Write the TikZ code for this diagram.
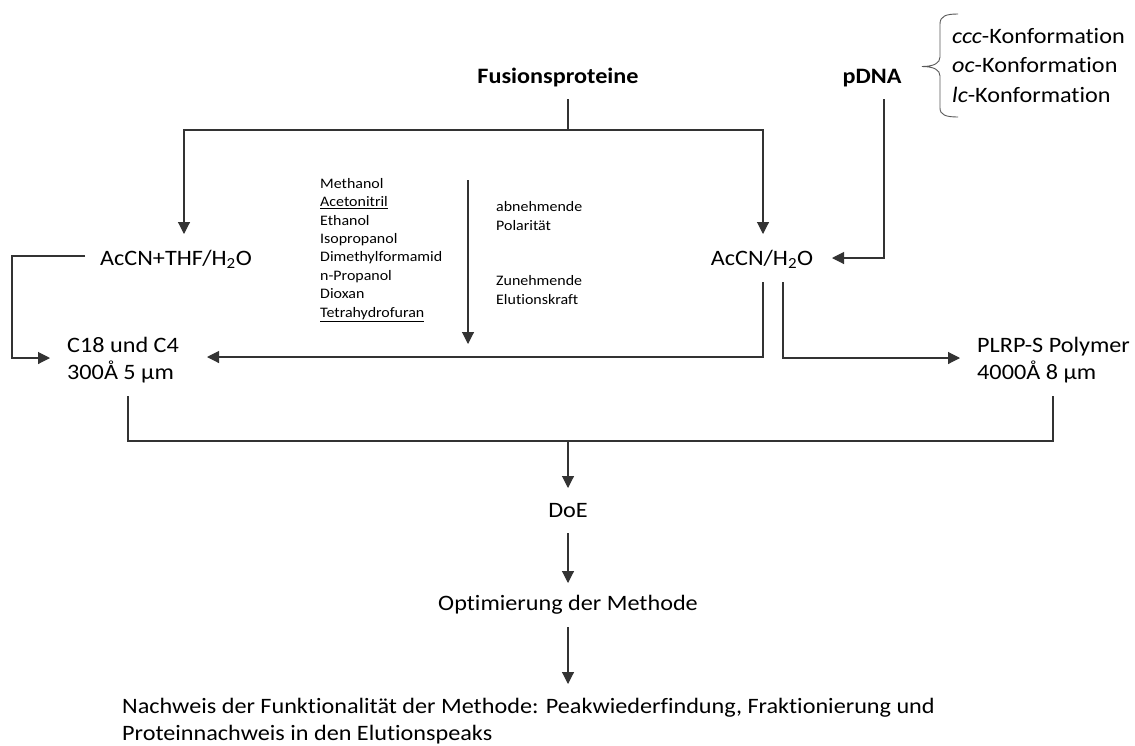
\documentclass[tikz,border=0pt]{standalone}
\usepackage{fontspec}
\setmainfont{Carlito}[FakeStretch=1.1,Ligatures=NoCommon]
\usetikzlibrary{arrows.meta,calc}
\begin{document}
\begin{tikzpicture}[x=1pt,y=-1pt,
  line/.style={draw=black!80, line width=1.1pt},
  arr/.style={line, -{Triangle[length=12pt,width=12pt]}},
  txt/.style={inner sep=0pt, text=black, font=\fontsize{22}{27}\selectfont},
  bold/.style={txt, font=\fontsize{22}{27}\selectfont\bfseries},
  small/.style={inner sep=0pt, text=black, align=left, font=\fontsize{14.5}{18.4}\selectfont},
]
\useasboundingbox[fill=white] (0,0) rectangle (1135,745);

% text nodes (multi-line nodes are placed by the baseline of their last line)
\node[bold, anchor=base] (fus) at (558,83) {Fusionsproteine};
\node[bold, anchor=base] (pdna) at (872,83) {pDNA};
\node[txt, anchor=base west, align=left, font=\fontsize{22}{29.5}\selectfont] (conf) at (952,102)
  {\textit{ccc}-Konformation\\\textit{oc}-Konformation\\\textit{lc}-Konformation};
\node[txt, anchor=base] (acthf) at (176,265) {AcCN+THF/H\textsubscript{2}O};
\node[txt, anchor=base] (acw) at (762,265) {AcCN/H\textsubscript{2}O};
\node[small, anchor=base west] (solv) at (320,317)
  {Methanol\\\underline{Acetonitril}\\Ethanol\\Isopropanol\\Dimethylformamid\\n-Propanol\\Dioxan\\\underline{Tetrahydrofuran}};
\node[small, anchor=base west] (pol) at (496,230) {abnehmende\\Polarität};
\node[small, anchor=base west] (elu) at (496,304) {Zunehmende\\Elutionskraft};
\node[txt, anchor=base west, align=left] (c18) at (67,379) {C18 und C4\\300Å 5 µm};
\node[txt, anchor=base west, align=left] (plrp) at (977,379) {PLRP-S Polymer\\4000Å 8 µm};
\node[txt, anchor=base] (doe) at (568,517) {DoE};
\node[txt, anchor=base] (opt) at (568,610) {Optimierung der Methode};
\node[txt, anchor=base west, align=left] (nach) at (122,740)
  {Nachweis der Funktionalität der Methode: Peakwiederfindung, Fraktionierung und\\Proteinnachweis in den Elutionspeaks};

% connector points
\coordinate (fusout) at (568,99);
\coordinate (fussplit) at (568,130);
\coordinate (acthfin) at (184,234);
\coordinate (acwin) at (763,234);
\coordinate (pdnaout) at (884,99);
\coordinate (acwright) at (832,258);
\coordinate (acthfout) at (85,256);
\coordinate (c18left) at (12,358);
\coordinate (c18in) at (50,358);
\coordinate (acwout1) at (763,282);
\coordinate (c18right) at (207,357);
\coordinate (acwout2) at (783,282);
\coordinate (plrpin) at (960,358);
\coordinate (c18out) at (128,396);
\coordinate (plrpout) at (1053,396);
\coordinate (merge) at (568,441);
\coordinate (doein) at (568,488);
\coordinate (doeout) at (568,533);
\coordinate (optin) at (568,583);
\coordinate (optout) at (568,627);
\coordinate (nachin) at (568,684);
\coordinate (poltop) at (468,180);
\coordinate (polbot) at (468,344);

\draw[line] (fusout) -- (fussplit);
\draw[arr] (fussplit) -| (acthfin);
\draw[arr] (fussplit) -| (acwin);
\draw[arr] (pdnaout) |- (acwright);
\draw[arr] (acthfout) -| (c18left) -- (c18in);
\draw[arr] (acwout1) |- (c18right);
\draw[arr] (acwout2) |- (plrpin);
\draw[line] (c18out) |- (plrpout |- merge) -- (plrpout);
\draw[arr] (merge) -- (doein);
\draw[arr] (doeout) -- (optin);
\draw[arr] (optout) -- (nachin);
\draw[arr] (poltop) -- (polbot);

% brace
\draw[draw=black!65, line width=0.9pt]
  (958,14) .. controls (946,14) and (940,16) .. (940,24) -- (940,57)
  .. controls (940,63) and (934,66.5) .. (922,66.5)
  .. controls (934,66.5) and (940,70) .. (940,76) -- (940,108)
  .. controls (940,115) and (946,117) .. (958,117);
\end{tikzpicture}
\end{document}
